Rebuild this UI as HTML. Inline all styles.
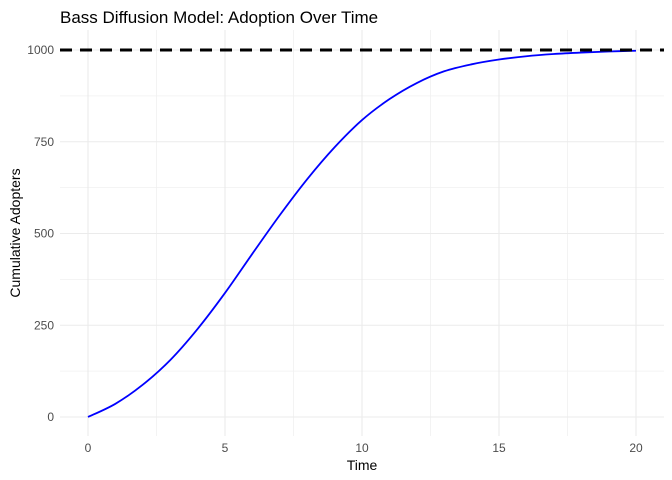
<!DOCTYPE html>
<html><head><meta charset="utf-8"><style>
body{margin:0;background:#fff}
svg{display:block;font-family:"Liberation Sans",sans-serif}
</style></head><body>
<svg id="chart" width="672" height="480">
<text x="60" y="23" font-size="17" fill="#000">Bass Diffusion Model: Adoption Over Time</text>
<g id="grid"></g>
<g id="ticks"></g>
<text x="362" y="470" font-size="14" text-anchor="middle">Time</text>
<text transform="translate(20,233) rotate(-90)" font-size="14" text-anchor="middle">Cumulative Adopters</text>
<g id="marks"></g>
</svg>
<script>
const times=[0,1,2,3,4,5,6,7,8,9,10,11,12,13,14,15,16,17,18,19,20];
const adopters=[0,36,88,155,240,338,445,550,648,735,809,866,910,942,961,974,983,989,993,996,998];
const marketSize=[1000];
const xTicks=[0,5,10,15,20];
const yTicks=[0,250,500,750,1000];
const NS="http://www.w3.org/2000/svg";
const X=v=>88+v*27.4, Y=v=>417-v*0.367;
const L=60,R=664,T=30,B=436;
function mk(tag,attrs,parent){const e=document.createElementNS(NS,tag);for(const k in attrs)e.setAttribute(k,attrs[k]);parent.appendChild(e);return e;}
const grid=document.getElementById('grid'),ticks=document.getElementById('ticks'),marks=document.getElementById('marks');
for(let i=0;i<xTicks.length-1;i++){const m=(xTicks[i]+xTicks[i+1])/2;
 const g=mk('line',{x1:X(m),x2:X(m),y1:T,y2:B,stroke:'#f0f0f0','stroke-width':0.8},grid);
 }
for(let i=0;i<yTicks.length-1;i++){const m=(yTicks[i]+yTicks[i+1])/2;
 const g=mk('line',{x1:L,x2:R,y1:Y(m),y2:Y(m),stroke:'#f0f0f0','stroke-width':0.8},grid);
 }
xTicks.forEach(v=>{const g=mk('line',{x1:X(v),x2:X(v),y1:T,y2:B,stroke:'#ebebeb','stroke-width':1.1},grid);
 
 const t=mk('text',{x:X(v),y:452,'font-size':12,fill:'#4d4d4d','text-anchor':'middle'},ticks);t.textContent=v;
 });
yTicks.forEach(v=>{const g=mk('line',{x1:L,x2:R,y1:Y(v),y2:Y(v),stroke:'#ebebeb','stroke-width':1.1},grid);
 
 const t=mk('text',{x:54,y:Y(v)+4,'font-size':12,fill:'#4d4d4d','text-anchor':'end'},ticks);t.textContent=v;
 });
const pts=times.map((t,i)=>[X(t),Y(adopters[i])]);
let d='M'+pts[0][0]+','+pts[0][1];
for(let i=0;i<pts.length-1;i++){const p0=pts[Math.max(0,i-1)],p1=pts[i],p2=pts[i+1],p3=pts[Math.min(pts.length-1,i+2)];
 d+=` C${p1[0]+(p2[0]-p0[0])/6},${p1[1]+(p2[1]-p0[1])/6} ${p2[0]-(p3[0]-p1[0])/6},${p2[1]-(p3[1]-p1[1])/6} ${p2[0]},${p2[1]}`;}
const line=mk('path',{d:d,fill:'none',stroke:'#0000ff','stroke-width':1.8},marks);


const ref=mk('line',{x1:L,x2:R,y1:Y(marketSize[0]),y2:Y(marketSize[0]),stroke:'#000','stroke-width':3,'stroke-dasharray':'12,8'},marks);


</script>
</body></html>
